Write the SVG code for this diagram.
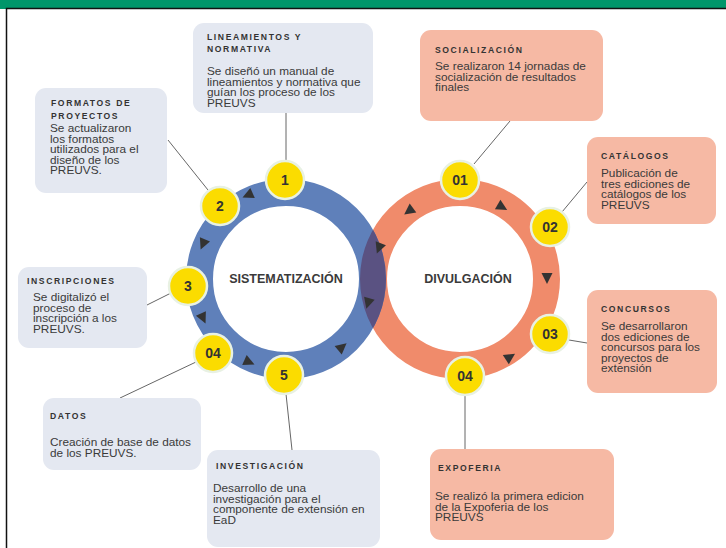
<svg xmlns="http://www.w3.org/2000/svg" width="726" height="548" viewBox="0 0 726 548">
<defs>
<style>
.bl{fill:#e4e8f1}
.or{fill:#f6b9a4}
.tt{font-family:"Liberation Sans",Arial,sans-serif;font-weight:bold;font-size:8.6px;letter-spacing:1.6px;fill:#333}
.bd{font-family:"Liberation Sans",Arial,sans-serif;font-size:11.8px;fill:#3a3a3a}
.num{font-family:"Liberation Sans",Arial,sans-serif;font-weight:bold;font-size:14px;fill:#333;text-anchor:middle}
.ctr{font-family:"Liberation Sans",Arial,sans-serif;font-weight:bold;font-size:12.5px;fill:#3a3a3a;text-anchor:middle}
.yc{fill:#fbdc00;stroke:#e8f1e3;stroke-width:2.5}
.cn{stroke:#555;stroke-width:0.9;fill:none}
.ar{fill:#333}
</style>
<path id="tri" d="M6,0 L-5,-5.5 L-5,5.5 Z"/>
<clipPath id="oclip"><path clip-rule="evenodd" d="M360,279 a100,100 0 1,0 200,0 a100,100 0 1,0 -200,0 Z M387,279 a73,73 0 1,0 146,0 a73,73 0 1,0 -146,0 Z"/></clipPath>
</defs>
<rect x="0" y="0" width="726" height="548" fill="#fff"/>
<rect x="0" y="0" width="726" height="9" fill="#00966a"/>
<path d="M6.5,548 V8.5 H726" fill="none" stroke="#111" stroke-width="1.5"/>

<g id="rings">
<circle cx="460" cy="279" r="86.5" fill="#fff" stroke="#f08b6b" stroke-width="27"/>
<circle cx="286" cy="279" r="86.5" fill="none" stroke="#5f80ba" stroke-width="27"/>
<circle cx="286" cy="279" r="86.5" fill="none" stroke="#5a5282" stroke-width="27" clip-path="url(#oclip)"/>
<text class="ctr" x="286" y="283">SISTEMATIZACIÓN</text>
<text class="ctr" x="468" y="283">DIVULGACIÓN</text>
</g>

<g id="arrows">
<use href="#tri" class="ar" transform="translate(248,195) rotate(156)"/>
<use href="#tri" class="ar" transform="translate(203,244) rotate(113)"/>
<use href="#tri" class="ar" transform="translate(203,318) rotate(65)"/>
<use href="#tri" class="ar" transform="translate(249,362) rotate(24)"/>
<use href="#tri" class="ar" transform="translate(342,347) rotate(-40)"/>
<use href="#tri" class="ar" transform="translate(368,303) rotate(106)"/>
<use href="#tri" class="ar" transform="translate(379,248) rotate(111)"/>
<use href="#tri" class="ar" transform="translate(409,211) rotate(143)"/>
<use href="#tri" class="ar" transform="translate(502,207) rotate(30)"/>
<use href="#tri" class="ar" transform="translate(547,278) rotate(90)"/>
<use href="#tri" class="ar" transform="translate(510,357) rotate(-33)"/>
</g>

<g id="connectors">
<line class="cn" x1="286" y1="113" x2="286" y2="161"/>
<line class="cn" x1="168" y1="140" x2="208" y2="190"/>
<line class="cn" x1="147" y1="305" x2="171" y2="293"/>
<line class="cn" x1="196" y1="362" x2="120" y2="398"/>
<line class="cn" x1="286" y1="394" x2="292" y2="450"/>
<line class="cn" x1="510" y1="121" x2="474" y2="164"/>
<line class="cn" x1="587" y1="182" x2="562" y2="212"/>
<line class="cn" x1="569" y1="340" x2="587" y2="343"/>
<line class="cn" x1="465" y1="395" x2="465" y2="449"/>
</g>

<g id="n1"><circle class="yc" cx="285" cy="180" r="19"/><text class="num" x="285" y="185">1</text></g>
<g id="n2"><circle class="yc" cx="220" cy="206" r="19"/><text class="num" x="220" y="211">2</text></g>
<g id="n3"><circle class="yc" cx="188" cy="286" r="19"/><text class="num" x="188" y="291">3</text></g>
<g id="n4"><circle class="yc" cx="213" cy="353" r="19"/><text class="num" x="213" y="358">04</text></g>
<g id="n5"><circle class="yc" cx="284" cy="375" r="19"/><text class="num" x="284" y="380">5</text></g>
<g id="d1"><circle class="yc" cx="460" cy="180" r="19"/><text class="num" x="460" y="185">01</text></g>
<g id="d2"><circle class="yc" cx="550" cy="227" r="19"/><text class="num" x="550" y="232">02</text></g>
<g id="d3"><circle class="yc" cx="550" cy="334" r="19"/><text class="num" x="550" y="339">03</text></g>
<g id="d4"><circle class="yc" cx="465" cy="376" r="19"/><text class="num" x="465" y="381">04</text></g>

<g id="lineamientos">
<rect class="bl" x="193" y="23" width="180" height="90" rx="11"/>
<text class="tt" x="207" y="39.5">LINEAMIENTOS Y</text>
<text class="tt" x="207" y="52">NORMATIVA</text>
<text class="bd" x="207" y="75">Se diseñó  un manual de</text>
<text class="bd" x="207" y="85.5">lineamientos y normativa que</text>
<text class="bd" x="207" y="96">guían los proceso de los</text>
<text class="bd" x="207" y="106.5">PREUVS</text>
</g>

<g id="formatos">
<rect class="bl" x="35" y="88" width="132" height="105" rx="11"/>
<text class="tt" x="51" y="106">FORMATOS DE</text>
<text class="tt" x="51" y="118.5">PROYECTOS</text>
<text class="bd" x="50" y="132">Se actualizaron</text>
<text class="bd" x="50" y="142.5">los formatos</text>
<text class="bd" x="50" y="153">utilizados para el</text>
<text class="bd" x="50" y="163.5">diseño de los</text>
<text class="bd" x="50" y="174">PREUVS.</text>
</g>

<g id="inscripciones">
<rect class="bl" x="18" y="267" width="129" height="81" rx="11"/>
<text class="tt" x="27" y="284">INSCRIPCIONES</text>
<text class="bd" x="33" y="301">Se digitalizó el</text>
<text class="bd" x="33" y="311.5">proceso de</text>
<text class="bd" x="33" y="322">inscripción a los</text>
<text class="bd" x="33" y="332.5">PREUVS.</text>
</g>

<g id="datos">
<rect class="bl" x="43" y="398" width="158" height="72" rx="11"/>
<text class="tt" x="50" y="419">DATOS</text>
<text class="bd" x="50" y="446">Creación de base de datos</text>
<text class="bd" x="50" y="456.5">de los PREUVS.</text>
</g>

<g id="investigacion">
<rect class="bl" x="207" y="450" width="173" height="97" rx="11"/>
<text class="tt" x="216" y="469">INVESTIGACIÓN</text>
<text class="bd" x="213" y="492">Desarrollo de una</text>
<text class="bd" x="213" y="502.5">investigación para el</text>
<text class="bd" x="213" y="513">componente de extensión en</text>
<text class="bd" x="213" y="523.5">EaD</text>
</g>

<g id="socializacion">
<rect class="or" x="420" y="30" width="183" height="91" rx="11"/>
<text class="tt" x="435" y="53">SOCIALIZACIÓN</text>
<text class="bd" x="435" y="70">Se realizaron 14 jornadas de</text>
<text class="bd" x="435" y="80.5">socialización de resultados</text>
<text class="bd" x="435" y="91">finales</text>
</g>

<g id="catalogos">
<rect class="or" x="587" y="137" width="129" height="87" rx="11"/>
<text class="tt" x="601" y="159">CATÁLOGOS</text>
<text class="bd" x="601" y="177">Publicación de</text>
<text class="bd" x="601" y="187.5">tres ediciones de</text>
<text class="bd" x="601" y="198">catálogos de los</text>
<text class="bd" x="601" y="208.5">PREUVS</text>
</g>

<g id="concursos">
<rect class="or" x="587" y="290" width="130" height="103" rx="11"/>
<text class="tt" x="601" y="312">CONCURSOS</text>
<text class="bd" x="601" y="330">Se desarrollaron</text>
<text class="bd" x="601" y="340.5">dos ediciones de</text>
<text class="bd" x="601" y="351">concursos para los</text>
<text class="bd" x="601" y="361.5">proyectos de</text>
<text class="bd" x="601" y="372">extensión</text>
</g>

<g id="expoferia">
<rect class="or" x="430" y="449" width="184" height="91" rx="11"/>
<text class="tt" x="438" y="471">EXPOFERIA</text>
<text class="bd" x="435" y="500">Se realizó la primera edicion</text>
<text class="bd" x="435" y="510.5">de la Expoferia de los</text>
<text class="bd" x="435" y="521">PREUVS</text>
</g>
</svg>
